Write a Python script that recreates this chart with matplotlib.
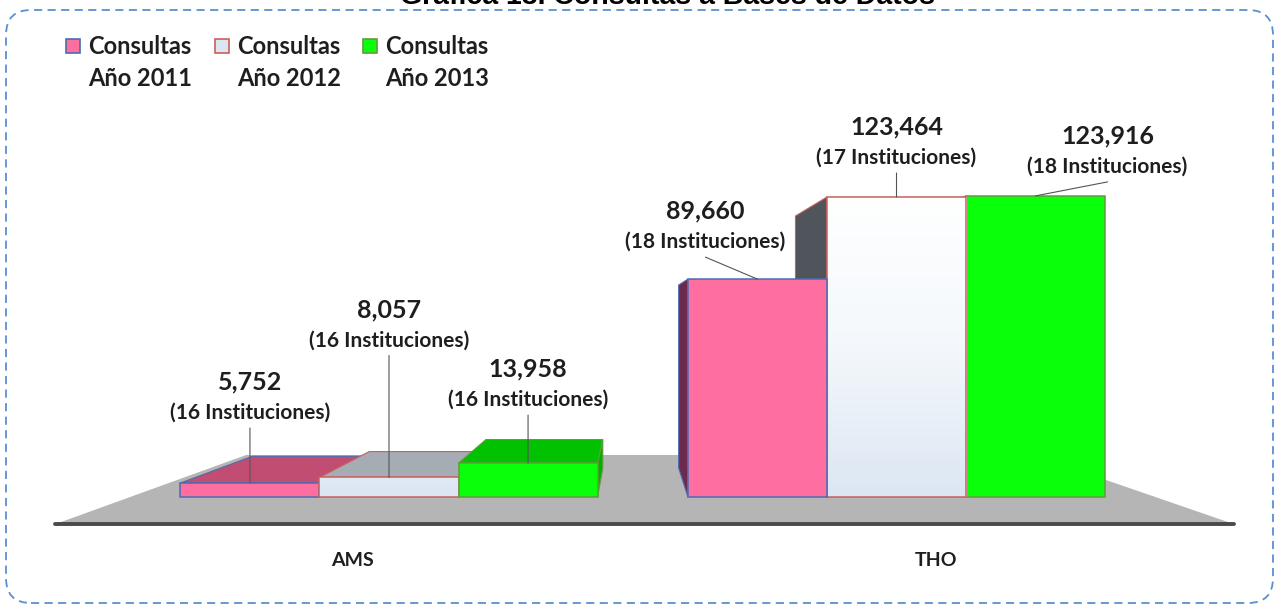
import matplotlib
matplotlib.use('Agg')
import matplotlib.pyplot as plt
import numpy as np
from matplotlib.patches import Polygon, Rectangle, FancyBboxPatch
from matplotlib.colors import LinearSegmentedColormap
from matplotlib.transforms import IdentityTransform

# data
categories = ['AMS', 'THO']
years = ['Año 2011', 'Año 2012', 'Año 2013']
consultas_2011 = [5752, 89660]
consultas_2012 = [8057, 123464]
consultas_2013 = [13958, 123916]
inst_2011 = [16, 18]
inst_2012 = [16, 17]
inst_2013 = [16, 18]

W, H = 1278, 605
plt.rcParams['font.family'] = ['Lato', 'DejaVu Sans']
plt.rcParams['font.weight'] = 'bold'
TXT = '#1E1E1E'

fig = plt.figure(figsize=(W / 100, H / 100), dpi=100)
ax = fig.add_axes([0, 0, 1, 1])
ax.set_xlim(-0.7665, 1.7517)
ax.set_ylim(-44444, 204527)
ax.axis('off')

# fake 3d: faces recede toward a vanishing point
VP = (0.475, 74500)
DEPTH = 0.16


def proj(x, v, d):
    return (x + d * (VP[0] - x), v + d * (VP[1] - v))


styles = [
    dict(front='#FF6EA1', edge='#4A6CB0', top='#C24D72', side='#6B2A4E'),
    dict(front='#DCE6F2', edge='#C8605C', top='#A5ACB3', side='#50555B'),
    dict(front='#0AFF0A', edge='#5E9E3A', top='#00C200', side='#00B000'),
]

# floor
fl = [proj(-0.51, 0, -0.15), proj(1.51, 0, -0.15), proj(1.51, 0, 0.232), proj(-0.51, 0, 0.232)]
ax.add_patch(Polygon(fl, fc='#B5B5B5', ec='none', zorder=1))
fx = [proj(-0.51, 0, -0.15)[0], proj(1.51, 0, -0.15)[0]]
fy = [proj(-0.51, 0, -0.15)[1]] * 2
ax.plot(fx, fy, color='#4A4A4A', lw=2.8, solid_capstyle='round', zorder=2)

series = [consultas_2011, consultas_2012, consultas_2013]
insts = [inst_2011, inst_2012, inst_2013]
width = 0.274
offsets = [-width, 0, width]

bars = []
for s, vals in enumerate(series):
    for c, v in enumerate(vals):
        xc = c + offsets[s]
        bars.append((abs(xc - VP[0]), s, c, xc, v))
bars.sort(reverse=True)

grad = np.linspace(0, 1, 256).reshape(-1, 1)
gcmap = LinearSegmentedColormap.from_list('g', ['#DCE6F2', '#F4F8FC', '#FFFFFF'])

z = 3
for _, s, c, xc, v in bars:
    x0, x1 = xc - width / 2, xc + width / 2
    st = styles[s]
    sx = x1 if VP[0] > x1 else x0
    side = [proj(sx, 0, 0), proj(sx, v, 0), proj(sx, v, DEPTH), proj(sx, 0, DEPTH)]
    ax.add_patch(Polygon(side, fc=st['side'], ec=st['edge'], lw=0.8, zorder=z))
    if v < VP[1]:
        top = [proj(x0, v, 0), proj(x1, v, 0), proj(x1, v, DEPTH), proj(x0, v, DEPTH)]
        ax.add_patch(Polygon(top, fc=st['top'], ec=st['edge'], lw=0.8, zorder=z))
    if s == 1:
        b = ax.bar(xc, v, width, color='none', ec=st['edge'], lw=1.1, zorder=z + 1.5)[0]
        im = ax.imshow(grad, cmap=gcmap, extent=(x0, x1, 0, 125000), origin='lower',
                       aspect='auto', zorder=z + 1)
        im.set_clip_path(b)
    else:
        ax.bar(xc, v, width, color=st['front'], ec=st['edge'], lw=1.1, zorder=z + 1)
    z += 2

ax.set_xlim(-0.7665, 1.7517)
ax.set_ylim(-44444, 204527)

# value labels: offsets in image pixels from the bar's front top centre
label_off = [[(0, -70), (-52, -37)],
             [(0, -137), (0, -39)],
             [(0, -63), (72, -29)]]
for s, vals in enumerate(series):
    for c, v in enumerate(vals):
        xc = c + offsets[s]
        dx, dy = label_off[s][c]
        ax.annotate('', xy=(xc, v), xytext=(dx, -(dy + 15)), textcoords='offset pixels',
                    arrowprops=dict(arrowstyle='-', color='#555555', lw=0.8,
                                    shrinkA=0, shrinkB=0), zorder=30)
        ax.annotate('({} Instituciones)'.format(insts[s][c]), xy=(xc, v), xytext=(dx, -dy),
                    textcoords='offset pixels', ha='center', va='center',
                    fontsize=15, color=TXT, zorder=31)
        ax.annotate('{:,}'.format(v), xy=(xc, v), xytext=(dx, -(dy - 31)),
                    textcoords='offset pixels', ha='center', va='center',
                    fontsize=18, color=TXT, zorder=31)

# category labels in front of the floor
for c, cat in enumerate(categories):
    ax.annotate(cat, xy=proj(c, 0, -0.15), xytext=(0, -36), textcoords='offset pixels',
                ha='center', va='center', fontsize=14, color=TXT)

# legend
leg_x = [66, 215, 363]
for s, yr in enumerate(years):
    st = styles[s]
    fig.add_artist(Rectangle((leg_x[s], H - 53), 14, 14, fc=st['front'], ec=st['edge'],
                             lw=1.2, transform=IdentityTransform()))
    fig.text((leg_x[s] + 22) / W, 1 - 46 / H, 'Consultas', ha='left', va='center',
             fontsize=17, color=TXT)
    fig.text((leg_x[s] + 22) / W, 1 - 79 / H, yr, ha='left', va='center',
             fontsize=17, color=TXT)

# title (cut off at the top edge, as in the source)
fig.text(667 / W, 1 - 4 / H, 'Gráfica 13. Consultas a Bases de Datos', ha='center',
         va='baseline', family='Liberation Sans', weight='bold', fontsize=20.5, color='#000000')

# dashed rounded frame
frame = FancyBboxPatch((6, H - 603), 1267, 593, boxstyle='round,pad=0,rounding_size=25',
                       fc='none', ec='#5B8FD0', lw=1.3, ls=(0, (4.5, 3)),
                       transform=IdentityTransform())
fig.add_artist(frame)

fig.savefig('out.png', dpi=100)
